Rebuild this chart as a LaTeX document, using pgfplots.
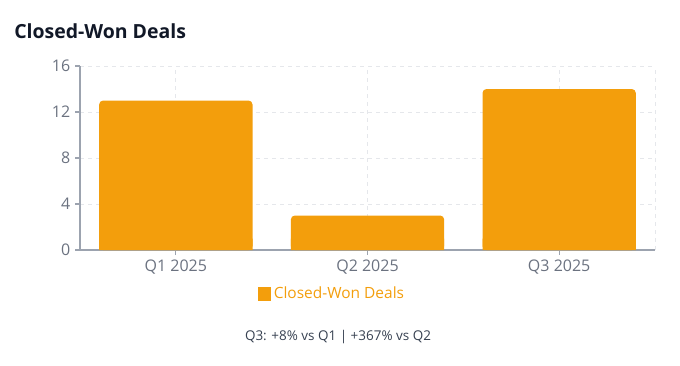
\documentclass[border=0pt]{standalone}
\usepackage{pgfplots}
\pgfplotsset{compat=1.18}
\usepackage{fontspec}
\setmainfont{Open Sans}
\definecolor{barc}{HTML}{F39E0C}
\definecolor{titlec}{HTML}{111827}
\definecolor{tickc}{HTML}{6B7280}
\definecolor{axc}{HTML}{9CA3AF}
\definecolor{gridc}{HTML}{E5E7EB}
\definecolor{notec}{HTML}{374151}
\begin{document}
\begin{tikzpicture}
\def\u{0.75pt}
\path[use as bounding box] (0,0) rectangle (680*\u,-365*\u);
\node[anchor=west, font=\bfseries\fontsize{14.6pt}{17pt}\selectfont, text=titlec, inner sep=0pt] at (14*\u,-31*\u) {Closed-Won Deals};
\begin{axis}[
  at={(80*\u,-250*\u)}, anchor=south west,
  scale only axis, width=575*\u, height=184*\u,
  xmin=-0.5, xmax=2.5, ymin=0, ymax=16,
  axis lines=left,
  axis line style={-, draw=axc, line width=1.2pt},
  xtick={0,1,2}, xticklabels={Q1 2025,Q2 2025,Q3 2025},
  ytick={0,4,8,12,16},
  extra x ticks={2.5}, extra x tick labels={},
  extra x tick style={major tick length=0pt},
  tick align=outside, major tick length=5*\u,
  tick style={draw=axc, line width=0.8pt},
  grid=major,
  major grid style={draw=gridc, dash pattern=on 3pt off 3pt, line width=0.75pt},
  ticklabel style={font=\fontsize{12pt}{14pt}\selectfont, text=tickc},
  /pgf/number format/assume math mode=true,
  xticklabel style={yshift=-0.5pt},
  ybar, bar width=0.8, bar shift=0pt,
  legend style={at={(0.439,-0.239)}, anchor=center, draw=none, fill=none,
    font=\fontsize{11.6pt}{13pt}\selectfont, text=barc, inner sep=0pt},
  legend image code/.code={\fill[barc, sharp corners] (0pt,-4.9pt) rectangle (9.75pt,4.9pt);},
  clip=false,
]
\addplot[fill=barc, draw=none, rounded corners=4*\u] coordinates {(0,13) (1,3) (2,14)};
\addlegendentry{Closed-Won Deals}
\addplot[fill=barc, draw=none, forget plot, y filter/.expression={y>1 ? 1 : y}] coordinates {(0,13) (1,3) (2,14)};
\end{axis}
\node[font=\fontsize{10.1pt}{12pt}\selectfont, text=notec] at (338*\u,-337*\u) {Q3: +8\% vs Q1 | +367\% vs Q2};
\end{tikzpicture}
\end{document}
